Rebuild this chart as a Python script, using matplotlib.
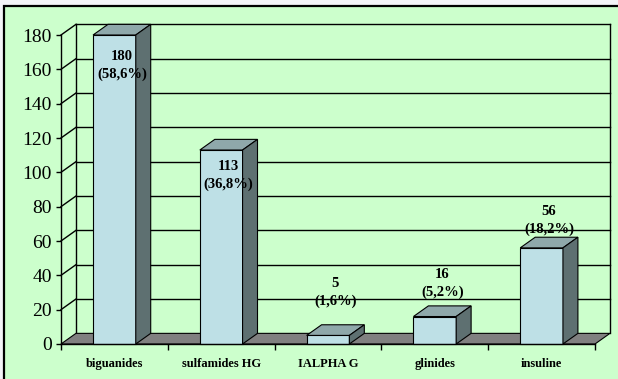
import matplotlib.pyplot as plt
from matplotlib.patches import Polygon, Rectangle

# données
categories = ['biguanides', 'sulfamides HG', 'IALPHA G', 'glinides', 'insuline']
values = [180, 113, 5, 16, 56]
percents = ['58,6%', '36,8%', '1,6%', '5,2%', '18,2%']
y_ticks = [0, 20, 40, 60, 80, 100, 120, 140, 160, 180]

# décalage vertical des étiquettes par rapport au haut de la barre
label_shift = [-21, -18, 22, 16, 13]

plt.rcParams['font.family'] = ['Liberation Serif', 'DejaVu Serif']

W, H = 618, 379
fig = plt.figure(figsize=(W / 100, H / 100), dpi=100)
fig.patch.set_facecolor('#f4f4f8')

# cadre vert du graphique
fig.patches.append(Rectangle((4 / W, -0.1), 1.1, 1 - 6 / H + 0.1,
                             transform=fig.transFigure, fc='#ccffcc',
                             ec='black', lw=1.6, zorder=-1))

ax = fig.add_axes([61 / W, 1 - 344 / H, 534 / W, 309 / H])
ax.set_xlim(-0.5, 4.5)
ax.set_ylim(0, 180)
ax.patch.set_visible(False)

# profondeur 3D (unités des axes)
dx = 0.14
dy = 6.2
grid_kw = dict(color='black', lw=1, clip_on=False, zorder=0.5)

# murs : quadrillage du fond et du côté gauche
for v in y_ticks[1:]:
    ax.plot([-0.5 + dx, 4.5 + dx], [v + dy, v + dy], **grid_kw)
    ax.plot([-0.5, -0.5 + dx], [v, v + dy], **grid_kw)
ax.plot([-0.5 + dx, -0.5 + dx], [dy, 180 + dy], **grid_kw)
ax.plot([4.5 + dx, 4.5 + dx], [dy, 180 + dy], **grid_kw)

# plancher
ax.add_patch(Polygon([(-0.5, 0), (4.5, 0), (4.5 + dx, dy), (-0.5 + dx, dy)],
                     closed=True, fc='#808080', ec='black', lw=0.8,
                     clip_on=False, zorder=1))

# barres 3D
w = 0.4
for i, v in enumerate(values):
    x0, x1 = i - w / 2, i + w / 2
    ax.add_patch(Rectangle((x0, 0), w, v, fc='#bee0e6', ec='black', lw=0.8,
                           clip_on=False, zorder=2))
    ax.add_patch(Polygon([(x0, v), (x1, v), (x1 + dx, v + dy), (x0 + dx, v + dy)],
                         closed=True, fc='#8fa8aa', ec='black', lw=0.8,
                         clip_on=False, zorder=2))
    ax.add_patch(Polygon([(x1, 0), (x1 + dx, dy), (x1 + dx, v + dy), (x1, v)],
                         closed=True, fc='#5e7071', ec='black', lw=0.8,
                         clip_on=False, zorder=2))
    ax.text(i + dx / 2, v + dy / 2 + label_shift[i], f'{v}\n({percents[i]})',
            ha='center', va='center', fontsize=10.5, fontweight='bold',
            linespacing=1.45, zorder=3)

# axes
for side in ['top', 'right']:
    ax.spines[side].set_visible(False)
for side in ['left', 'bottom']:
    ax.spines[side].set_linewidth(1)
    ax.spines[side].set_zorder(2.5)

ax.set_yticks(y_ticks)
ax.tick_params(axis='y', direction='out', length=3.5, width=1, pad=3,
               labelsize=14)

ax.set_xticks(range(len(categories)))
ax.set_xticklabels(categories, fontsize=9, fontweight='bold')
ax.tick_params(axis='x', which='major', length=0, pad=10)
ax.set_xticks([k - 0.5 for k in range(len(categories) + 1)], minor=True)
ax.tick_params(axis='x', which='minor', direction='out', length=4, width=1)

fig.savefig('out.png', dpi=100)
